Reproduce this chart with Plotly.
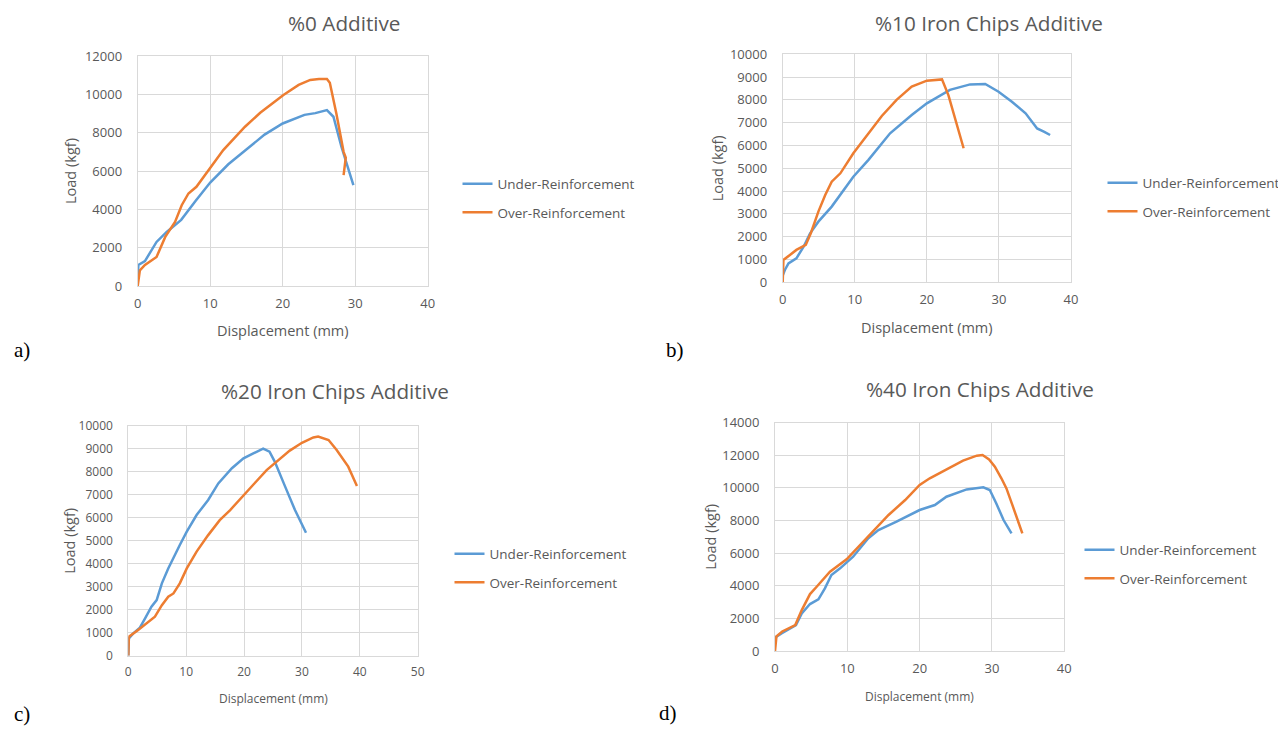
import plotly.graph_objects as go

W, H = 1286, 729

# ---------------- data ----------------
# a) %0 Additive
a_under_x = [0, 0.1, 1.0, 2.6, 4.0, 6.0, 8.0, 10.0, 12.5, 15.0, 17.5, 20.0, 22.0, 23.0, 24.5, 25.5, 26.1, 27.0, 28.1, 29.75]
a_under_y = [500, 1100, 1300, 2300, 2820, 3450, 4450, 5400, 6350, 7150, 7900, 8480, 8800, 8930, 9020, 9120, 9180, 8830, 7265, 5260]
a_over_x = [0, 0.3, 1.0, 2.6, 3.8, 5.15, 6.07, 7.0, 8.1, 10.0, 11.8, 14.8, 16.9, 20.1, 22.2, 23.8, 25.0, 26.1, 26.5, 27.4, 28.4, 28.7, 28.4]
a_over_y = [0, 820, 1100, 1515, 2560, 3345, 4216, 4826, 5174, 6132, 7090, 8310, 9040, 9965, 10490, 10750, 10800, 10800, 10600, 9000, 7000, 6700, 5780]

# b) %10 Iron Chips Additive
b_under_x = [0, 0.3, 0.8, 1.9, 2.9, 3.8, 4.95, 6.8, 9.8, 11.9, 14.9, 17.9, 20.0, 23.2, 26.0, 28.1, 29.95, 31.8, 33.7, 35.3, 36.3, 37.1]
b_under_y = [300, 540, 830, 1050, 1560, 2150, 2660, 3320, 4630, 5370, 6535, 7340, 7850, 8440, 8680, 8700, 8360, 7920, 7410, 6750, 6600, 6460]
b_over_x = [0, 0.1, 1.0, 1.9, 3.2, 3.9, 4.95, 5.9, 6.8, 8.0, 9.8, 11.9, 13.75, 15.8, 17.9, 20.0, 22.1, 23.0, 23.9, 25.1]
b_over_y = [0, 980, 1200, 1420, 1640, 2150, 3100, 3830, 4415, 4780, 5660, 6535, 7295, 8000, 8580, 8845, 8900, 8200, 7240, 5880]

# c) %20 Iron Chips Additive
c_under_x = [0, 0.1, 0.86, 2.0, 2.9, 4.0, 4.9, 5.8, 6.9, 8.1, 8.9, 10.1, 11.8, 13.8, 15.55, 17.9, 19.9, 21.6, 23.3, 24.4, 25.3, 27.1, 28.8, 30.7]
c_under_y = [0, 755, 970, 1220, 1625, 2130, 2420, 3150, 3800, 4455, 4820, 5400, 6125, 6780, 7500, 8160, 8590, 8810, 9010, 8880, 8450, 7360, 6340, 5355]
c_over_x = [0, 0.1, 1.7, 3.5, 4.6, 5.8, 6.9, 7.8, 8.9, 10.1, 11.8, 13.8, 15.8, 17.6, 19.9, 21.9, 23.9, 25.9, 27.9, 30.0, 31.97, 32.8, 34.6, 36.0, 38.0, 39.5]
c_over_y = [0, 830, 1120, 1480, 1700, 2200, 2570, 2710, 3150, 3800, 4530, 5250, 5900, 6340, 7000, 7530, 8080, 8520, 8930, 9270, 9500, 9540, 9390, 8955, 8230, 7390]

# d) %40 Iron Chips Additive
d_under_x = [0, 0.2, 0.9, 2.9, 3.7, 4.84, 6.0, 6.9, 7.8, 9.0, 10.8, 12.9, 14.3, 16.8, 20.0, 22.1, 23.7, 26.5, 28.8, 29.7, 30.6, 31.6, 32.7]
d_under_y = [800, 880, 1080, 1590, 2310, 2880, 3170, 3840, 4660, 5070, 5780, 6910, 7420, 7930, 8645, 8950, 9460, 9910, 10035, 9870, 9050, 8030, 7210]
d_over_x = [0, 0.2, 1.0, 2.8, 3.7, 4.84, 5.76, 7.6, 9.9, 11.75, 13.6, 15.7, 18.0, 20.0, 21.4, 23.7, 26.0, 27.9, 28.7, 29.6, 30.4, 31.3, 32.0, 32.9, 34.2]
d_over_y = [0, 900, 1200, 1590, 2510, 3490, 3940, 4860, 5620, 6500, 7320, 8340, 9260, 10180, 10590, 11140, 11670, 11980, 12020, 11750, 11300, 10590, 9970, 8850, 7210]

series_names = ["Under-Reinforcement", "Over-Reinforcement"]
panel_titles = ["%0 Additive", "%10 Iron Chips Additive", "%20 Iron Chips Additive", "%40 Iron Chips Additive"]
panel_letters = ["a)", "b)", "c)", "d)"]
x_ranges = [(0, 40), (0, 40), (0, 50), (0, 40)]
y_ranges = [(0, 12000), (0, 10000), (0, 10000), (0, 14000)]
y_dticks = [2000, 1000, 1000, 2000]
x_dtick = 10
x_title = "Displacement (mm)"
y_title = "Load (kgf)"

panels = [
    (a_under_x, a_under_y, a_over_x, a_over_y),
    (b_under_x, b_under_y, b_over_x, b_over_y),
    (c_under_x, c_under_y, c_over_x, c_over_y),
    (d_under_x, d_under_y, d_over_x, d_over_y),
]

# ---------------- layout (target pixel geometry on screen) ----------------
plot_boxes = [  # left, right, top, bottom in px
    (137.7, 427.7, 56.0, 286.0),
    (782.7, 1071.0, 54.3, 282.3),
    (128.3, 417.7, 426.0, 655.7),
    (775.0, 1064.3, 422.7, 651.0),
]
title_pos = [(344, 23), (989, 22.5), (335, 391), (980, 389)]
ytitle_x = [70, 717, 70, 711]
xtitle_y = [330, 328, 698, 696]
axis_title_size = [14.5, 14.5, 12, 12]
tick_size = [13, 13, 12, 13]
letter_pos = [(22, 350), (675, 350), (22, 714), (668, 713)]
legend_text_pos = [(498, 184), (1143, 183), (490, 554), (1120, 550)]

BLUE = "#5B9BD5"
ORANGE = "#ED7D31"
GRID = "#D9D9D9"
TXT = "#595959"
FONT = "Open Sans"

# the page body adds an 8 px offset to the figure
OX, OY = 8.0, 8.0


def px(x):
    return (x - OX) / W


def py(y):
    return 1 - (y - OY) / H


fig = go.Figure()
annotations = []
layout_extra = {}

for i, (ux, uy, ox, oy) in enumerate(panels):
    n = "" if i == 0 else str(i + 1)
    leg = "legend" if i == 0 else f"legend{i + 1}"
    fig.add_trace(go.Scatter(x=ux, y=uy, mode="lines", name=series_names[0],
                             line=dict(color=BLUE, width=2.5),
                             xaxis=f"x{n}", yaxis=f"y{n}", legend=leg,
                             legendgroup=f"u{i}"))
    fig.add_trace(go.Scatter(x=ox, y=oy, mode="lines", name=series_names[1],
                             line=dict(color=ORANGE, width=2.5),
                             xaxis=f"x{n}", yaxis=f"y{n}", legend=leg,
                             legendgroup=f"o{i}"))
    l, r, t, b = plot_boxes[i]
    axis_common = dict(showgrid=True, gridcolor=GRID, gridwidth=1, zeroline=False,
                       showline=True, mirror=True, linecolor=GRID, linewidth=1,
                       ticks="", tickfont=dict(family=FONT, size=tick_size[i], color=TXT),
                       tickformat="d", fixedrange=True, automargin=False)
    layout_extra[f"xaxis{n}"] = dict(domain=[px(l), px(r)], range=list(x_ranges[i]),
                                     dtick=x_dtick, anchor=f"y{n}",
                                     ticklabelstandoff=5, **axis_common)
    layout_extra[f"yaxis{n}"] = dict(domain=[py(b), py(t)], range=list(y_ranges[i]),
                                     dtick=y_dticks[i], anchor=f"x{n}",
                                     ticklabelstandoff=12, **axis_common)
    tx0, ty0 = legend_text_pos[i]
    layout_extra[leg] = dict(x=px(tx0 - 40.5), y=py(ty0 - 15.5), xanchor="left", yanchor="top",
                             bgcolor="rgba(0,0,0,0)", tracegroupgap=8,
                             font=dict(family=FONT, size=13.5, color=TXT),
                             itemwidth=30)
    # title
    tx, ty = title_pos[i]
    annotations.append(dict(text=panel_titles[i], x=px(tx), y=py(ty), xref="paper", yref="paper",
                            showarrow=False, xanchor="center", yanchor="middle",
                            font=dict(family=FONT, size=20.7, color=TXT)))
    # axis titles
    annotations.append(dict(text=x_title, x=px((l + r) / 2), y=py(xtitle_y[i]), xref="paper", yref="paper",
                            showarrow=False, xanchor="center", yanchor="middle",
                            font=dict(family=FONT, size=axis_title_size[i], color=TXT)))
    annotations.append(dict(text=y_title, x=px(ytitle_x[i]), y=py((t + b) / 2), xref="paper", yref="paper",
                            showarrow=False, xanchor="center", yanchor="middle", textangle=-90,
                            font=dict(family=FONT, size=14.5, color=TXT)))
    # panel letter
    lx2, ly2 = letter_pos[i]
    annotations.append(dict(text=panel_letters[i], x=px(lx2), y=py(ly2), xref="paper", yref="paper",
                            showarrow=False, xanchor="center", yanchor="middle",
                            font=dict(family="Liberation Serif", size=21, color="#000000")))

fig.update_layout(width=W, height=H, margin=dict(l=0, r=0, t=0, b=0),
                  paper_bgcolor="white", plot_bgcolor="white",
                  showlegend=True, annotations=annotations, **layout_extra)

fig.write_html("out.html")
